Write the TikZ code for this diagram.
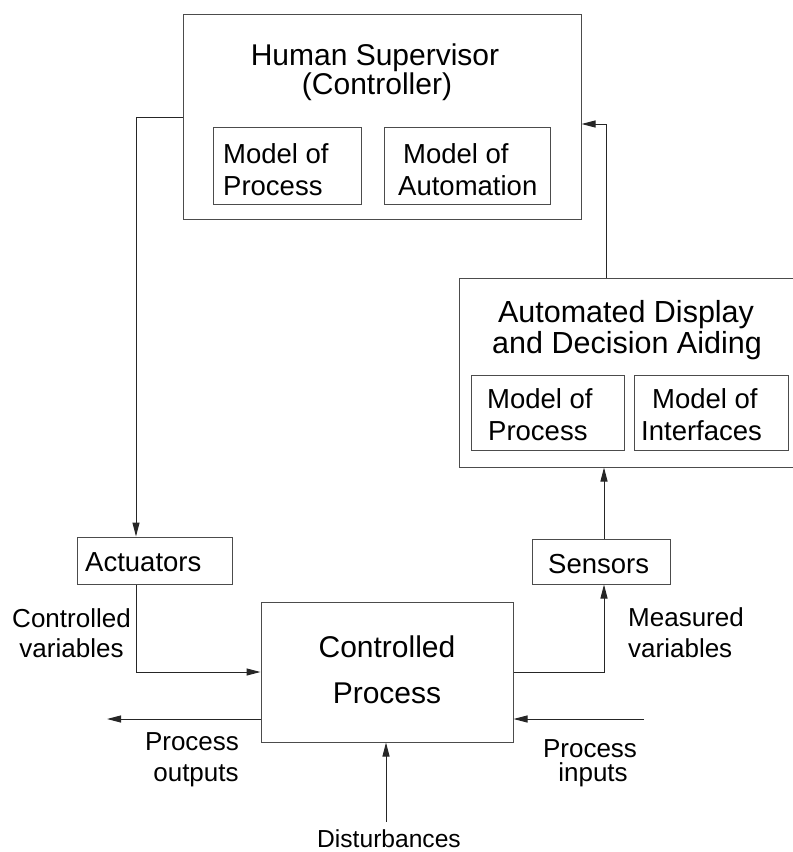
\documentclass[tikz,border=0pt]{standalone}
\usepackage{fontspec}
\setmainfont{Liberation Sans}
\usetikzlibrary{arrows.meta,calc}
\begin{document}
\begin{tikzpicture}[x=1bp,y=-1bp,
  box/.style={draw=black!70,line width=1bp,inner sep=0pt},
  arr/.style={draw=black!85,line width=1bp,-{Triangle[length=14bp,width=7bp]}},
  fbig/.style={font=\fontsize{30bp}{30bp}\selectfont,inner sep=0pt},
  fmid/.style={font=\fontsize{27.5bp}{28bp}\selectfont,inner sep=0pt},
  fsmall/.style={font=\fontsize{26bp}{26bp}\selectfont,inner sep=0pt},
  ftiny/.style={font=\fontsize{24.6bp}{25bp}\selectfont,inner sep=0pt}]
\useasboundingbox (0,0) rectangle (793,852);
\clip (0,0) rectangle (793,852);

% ---- boxes ----
\node[box,minimum width=398bp,minimum height=204bp] (sup)   at (382,117)   {};
\node[box,minimum width=148bp,minimum height=77bp]  (supP)  at (287,165.5) {};
\node[box,minimum width=166bp,minimum height=77bp]  (supA)  at (467,165.5) {};
\node[box,minimum width=337bp,minimum height=189bp] (disp)  at (627.5,372.5) {};
\node[box,minimum width=153bp,minimum height=75bp]  (dispP) at (547.5,412.5) {};
\node[box,minimum width=154bp,minimum height=75bp]  (dispI) at (711,412.5)   {};
\node[box,minimum width=155bp,minimum height=47bp]  (act)   at (154.5,560.5) {};
\node[box,minimum width=138bp,minimum height=45bp]  (sens)  at (601,561.5)   {};
\node[box,minimum width=252bp,minimum height=140bp] (proc)  at (387,672)     {};

% ---- box texts ----
\node[fbig,anchor=base] (supT1) at (375,65) {Human Supervisor};
\node[fbig,anchor=base] (supT2) at (377,94) {(Controller)};
\node[fmid,anchor=base west] (supP1) at (223,163) {Model of};
\node[fmid,anchor=base west] (supP2) at (223,195) {Process};
\node[fmid,anchor=base west] (supA1) at (403,163) {Model of};
\node[fmid,anchor=base west] (supA2) at (398,195) {Automation};

\node[fbig,font=\fontsize{30.5bp}{31bp}\selectfont,anchor=base] (dispT1) at (626,322) {Automated Display};
\node[fbig,font=\fontsize{30.5bp}{31bp}\selectfont,anchor=base] (dispT2) at (627,353) {and Decision Aiding};
\node[fmid,anchor=base west] (dispP1) at (487,408) {Model of};
\node[fmid,anchor=base west] (dispP2) at (488,440) {Process};
\node[fmid,anchor=base west] (dispI1) at (652,408) {Model of};
\node[fmid,anchor=base west] (dispI2) at (641,440) {Interfaces};

\node[fmid,anchor=base west] (actT)  at (85,571)  {Actuators};
\node[fmid,anchor=base west] (sensT) at (548,573) {Sensors};
\node[fbig,anchor=base] (procT1) at (387,657) {Controlled};
\node[fbig,anchor=base] (procT2) at (387,703) {Process};

% ---- signal labels ----
\node[fsmall,anchor=base] (cv1) at (71.5,627) {Controlled};
\node[fsmall,anchor=base] (cv2) at (71.5,657) {variables};
\node[fsmall,anchor=base west] (mv1) at (628,626) {Measured};
\node[fsmall,anchor=base west] (mv2) at (628,657) {variables};
\node[fsmall,anchor=base] (po1) at (192,750) {Process};
\node[fsmall,anchor=base] (po2) at (196,781) {outputs};
\node[fsmall,anchor=base] (pi1) at (590,757) {Process};
\node[fsmall,anchor=base] (pi2) at (593,781) {inputs};
\node[ftiny,anchor=base] (distT) at (389,847) {Disturbances};

% ---- connectors ----
\coordinate (actIn)   at ($(act.north)+(-18.5,0)$);
\coordinate (actOut)  at ($(act.south)+(-18.5,0)$);
\coordinate (dispOut) at ($(disp.north)+(-21.5,0)$);
\coordinate (supIn)   at ($(sup.east)+(0,7)$);
\coordinate (sensIn)  at ($(sens.south)+(3,0)$);
\coordinate (sensOut) at ($(sens.north)+(3,0)$);
\coordinate (outL)    at ($(proc.west)+(0,47)$);
\coordinate (inR)     at ($(proc.east)+(0,47)$);
\coordinate (outEnd)  at (107,719);
\coordinate (inStart) at (644,719);
\coordinate (distStart) at (386,822);

\draw[arr] (sup.west) -| (actIn);
\draw[arr] (dispOut) |- (supIn);
\draw[arr] (actOut) |- (proc.west);
\draw[arr] (proc.east) -| (sensIn);
\draw[arr] (sensOut) -- (sensOut |- disp.south);
\draw[arr] (outL) -- (outEnd);
\draw[arr] (inStart) -- (inR);
\draw[arr] (distStart) -- (distStart |- proc.south);
\end{tikzpicture}
\end{document}
